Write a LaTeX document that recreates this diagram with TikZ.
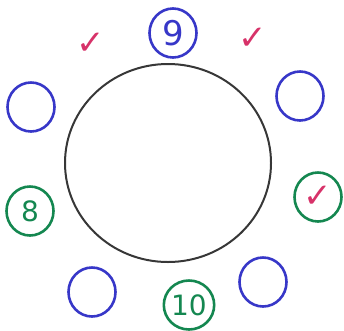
\documentclass[tikz,border=0pt]{standalone}
\usepackage{fontspec}
\newfontfamily\symfont{DejaVu Sans}
\usetikzlibrary{shapes.geometric}
\definecolor{penblue}{RGB}{55,55,200}
\definecolor{pengreen}{RGB}{20,135,80}
\definecolor{penred}{RGB}{215,50,105}
\definecolor{pengray}{RGB}{55,55,55}

\begin{document}
\begin{tikzpicture}[x=1pt, y=-1pt, line width=2.6pt,
  seat/.style={draw, ellipse, minimum width=47pt, minimum height=49pt, inner sep=0pt, font=\symfont\fontsize{28}{28}\selectfont},
  tick/.style={text=penred, inner sep=0pt, font=\symfont\fontsize{34}{34}\selectfont}]
\useasboundingbox (0,0) rectangle (344,330);
\node[draw=pengray, ellipse, line width=2pt, minimum width=206pt, minimum height=198pt] (table) at (168,163) {};
\node[seat, penblue, font=\symfont\fontsize{34}{34}\selectfont] (s9) at (173,33) {9};
\node[seat, penblue] (ur) at (300,96) {};
\node[seat, draw=pengreen, tick] (r) at (318,197) {✓};
\node[seat, penblue] (br) at (263,282) {};
\node[seat, pengreen] (s10) at (189,305) {10};
\node[seat, penblue] (bl) at (92,292) {};
\node[seat, pengreen] (s8) at (30,211) {8};
\node[seat, penblue] (ul) at (31,107) {};
\node[tick] (t1) at (91,44) {✓};
\node[tick] (t2) at (253,39) {✓};
\end{tikzpicture}
\end{document}
